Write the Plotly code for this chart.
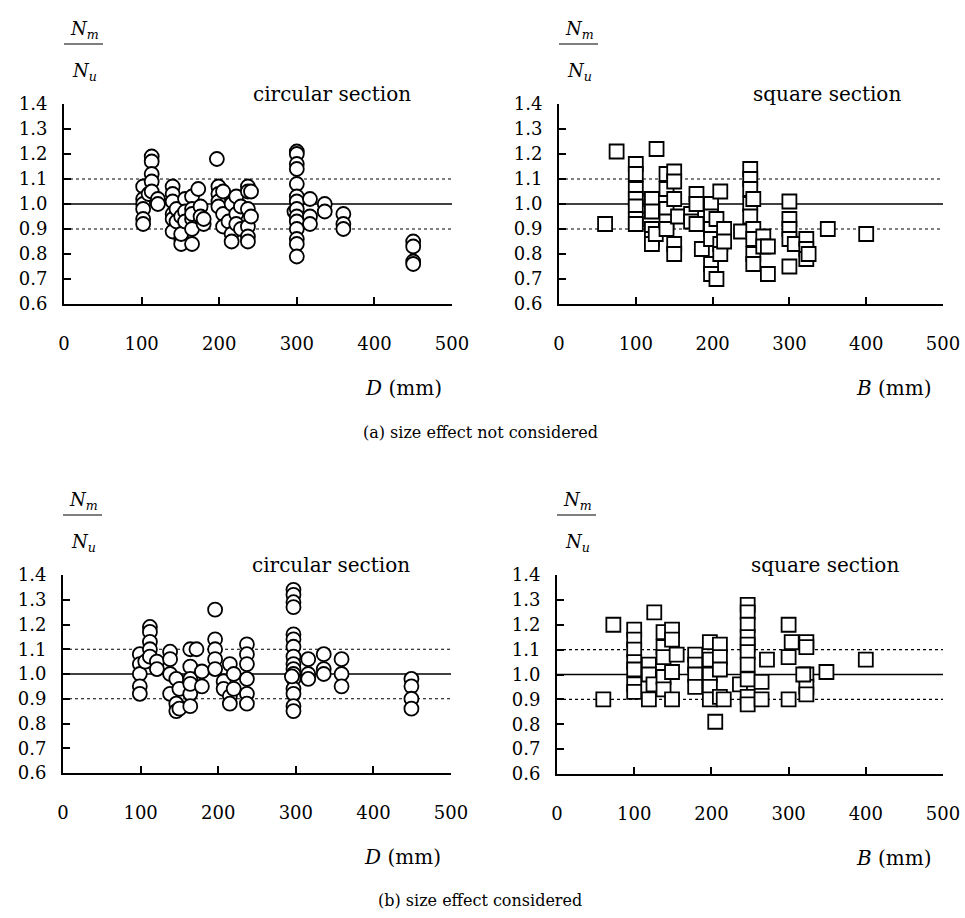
import plotly.graph_objects as go

W, H = 965, 918
FONT = "DejaVu Serif"

# ---------------- data ----------------
# (a) size effect not considered — circular section
circ_a_D = ([102]*6 + [109] + [113]*5 + [121]*2 + [140]*6 + [145]*2 + [151]*4 + [156]*3 +
            [165]*6 + [173] + [176]*2 + [180]*2 + [197] + [199]*4 + [205]*3 + [212] +
            [216]*3 + [222]*3 + [228]*2 + [237]*6 + [241]*2 + [297] + [300]*14 +
            [317]*3 + [336]*2 + [360]*3 + [450]*4)
circ_a_ratio = ([1.07, 1.02, 1.00, 0.98, 0.94, 0.92] + [1.04] + [1.19, 1.17, 1.12, 1.09, 1.05] +
                [1.02, 1.00] + [1.07, 1.04, 1.01, 0.96, 0.94, 0.89] + [0.98, 0.93] +
                [0.95, 0.86, 0.84, 0.88] + [1.02, 0.97, 0.93] + [1.03, 0.98, 0.94, 0.90, 0.84, 0.96] +
                [1.06] + [0.99, 0.95] + [0.92, 0.94] + [1.18] + [1.07, 1.04, 1.01, 0.99] +
                [0.96, 0.91, 1.05] + [0.93] + [1.00, 0.88, 0.85] + [1.03, 0.96, 0.92] + [0.99, 0.90] +
                [1.07, 1.05, 0.98, 0.91, 0.87, 0.85] + [1.05, 0.95] + [0.97] +
                [1.21, 1.20, 1.16, 1.14, 1.08, 1.03, 1.01, 0.98, 0.95, 0.93, 0.90, 0.86, 0.84, 0.79] +
                [1.02, 0.95, 0.92] + [1.00, 0.97] + [0.96, 0.92, 0.90] + [0.85, 0.83, 0.77, 0.76])

# (a) size effect not considered — square section
sq_a_B = ([60, 75, 127] + [100]*7 + [121]*5 + [126] + [140]*5 + [150]*5 + [155] + [172]*2 +
          [179]*3 + [186] + [198]*6 + [205]*2 + [210]*3 + [215]*2 + [237] + [249]*5 + [253]*5 +
          [266]*2 + [272]*2 + [300]*5 + [307] + [322]*3 + [325] + [350] + [400])
sq_a_ratio = ([0.92, 1.21, 1.22] + [1.16, 1.12, 1.06, 1.02, 0.99, 0.94, 0.92] +
              [1.02, 0.97, 0.90, 0.86, 0.84] + [0.88] + [1.12, 1.06, 0.98, 0.93, 0.90] +
              [1.13, 1.09, 1.02, 0.84, 0.80] + [0.95] + [0.96, 0.93] + [1.04, 1.00, 0.92] + [0.82] +
              [1.00, 0.95, 0.90, 0.86, 0.76, 0.72] + [0.70, 0.94] + [1.05, 0.84, 0.80] + [0.90, 0.85] +
              [0.89] + [1.14, 1.10, 1.06, 1.00, 0.95] + [1.02, 0.90, 0.86, 0.80, 0.76] + [0.87, 0.83] +
              [0.83, 0.72] + [1.01, 0.94, 0.90, 0.86, 0.75] + [0.84] + [0.86, 0.82, 0.78] + [0.80] +
              [0.90] + [0.88])

# (b) size effect considered — circular section
circ_b_D = ([99]*5 + [106] + [112]*5 + [121]*2 + [138]*4 + [146]*3 + [150]*2 + [164]*6 + [172] +
            [179]*2 + [196]*5 + [207]*2 + [215]*3 + [220]*2 + [237]*6 + [297]*16 + [295] +
            [316]*3 + [336]*3 + [359]*3 + [449]*4)
circ_b_ratio = ([1.08, 1.04, 1.00, 0.95, 0.92] + [1.05] + [1.19, 1.17, 1.13, 1.10, 1.07] + [1.05, 1.02] +
                [1.09, 1.06, 1.00, 0.92] + [0.98, 0.88, 0.85] + [0.94, 0.86] +
                [1.10, 1.03, 0.98, 0.92, 0.87, 0.96] + [1.10] + [0.95, 1.01] +
                [1.26, 1.14, 1.10, 1.06, 1.02] + [0.97, 0.94] + [1.04, 0.91, 0.88] + [1.00, 0.94] +
                [1.12, 1.08, 1.04, 0.98, 0.92, 0.88] +
                [1.34, 1.32, 1.29, 1.27, 1.16, 1.14, 1.11, 1.07, 1.04, 1.02, 1.00, 0.98, 0.94, 0.92, 0.87, 0.85] +
                [0.99] + [1.06, 1.00, 0.98] + [1.08, 1.02, 1.00] + [1.06, 1.00, 0.95] + [0.98, 0.95, 0.90, 0.86])

# (b) size effect considered — square section
sq_b_B = ([60, 73, 126] + [100]*7 + [119]*3 + [125] + [138]*5 + [149]*4 + [155] + [179]*4 +
          [198]*5 + [205] + [211]*4 + [216] + [237] + [247]*10 + [265]*2 + [272] + [300]*3 +
          [304] + [323]*5 + [319] + [349] + [400])
sq_b_ratio = ([0.90, 1.20, 1.25] + [1.18, 1.14, 1.10, 1.05, 1.02, 0.96, 0.93] + [1.04, 1.00, 0.90] +
              [0.96] + [1.17, 1.11, 1.07, 0.99, 0.94] + [1.18, 1.14, 1.01, 0.90] + [1.08] +
              [1.08, 1.04, 1.00, 0.95] + [1.13, 1.06, 1.00, 0.95, 0.90] + [0.81] +
              [1.12, 1.07, 1.02, 0.91] + [0.90] + [0.96] +
              [1.28, 1.25, 1.20, 1.15, 1.12, 1.09, 1.04, 0.98, 0.91, 0.88] + [0.97, 0.90] + [1.06] +
              [1.20, 1.07, 0.90] + [1.13] + [1.13, 1.11, 1.00, 0.95, 0.92] + [1.00] + [1.01] + [1.06])

x_ticks = [0, 100, 200, 300, 400, 500]
y_ticks = [0.6, 0.7, 0.8, 0.9, 1.0, 1.1, 1.2, 1.3, 1.4]
ref_lines = [(1.0, "solid"), (1.1, "dot"), (0.9, "dot")]
section_titles = ["circular section", "square section", "circular section", "square section"]
x_titles = ["<i>D</i> (mm)", "<i>B</i> (mm)", "<i>D</i> (mm)", "<i>B</i> (mm)"]
captions = ["(a) size effect not considered", "(b) size effect considered"]

# ---------------- layout helpers ----------------
def px_x(p):
    return p / W

def px_y(p):
    return 1 - p / H

def label(text, x, y, size):
    return dict(text=text, xref="paper", yref="paper", x=px_x(x), y=px_y(y),
                xanchor="center", yanchor="middle", showarrow=False,
                font=dict(family=FONT, size=size, color="black"))

# pixel boxes of the 4 plot areas: (left, right, top, bottom)
boxes = [(64, 452, 104, 304), (559, 943, 104, 304), (63, 451, 575, 773), (557, 943, 575, 774)]
series = [(circ_a_D, circ_a_ratio, "circle"), (sq_a_B, sq_a_ratio, "square"),
          (circ_b_D, circ_b_ratio, "circle"), (sq_b_B, sq_b_ratio, "square")]

fig = go.Figure()
layout = dict(template="none", width=W, height=H, margin=dict(l=0, r=0, t=0, b=0, autoexpand=False),
              plot_bgcolor="white", paper_bgcolor="white", showlegend=False,
              font=dict(family=FONT, size=19, color="black"))
shapes, annotations = [], []

for i, ((l, r, t, b), (xs, ys, sym)) in enumerate(zip(boxes, series)):
    k = "" if i == 0 else str(i + 1)
    layout["xaxis" + k] = dict(domain=[px_x(l), px_x(r)], range=[0, 500], anchor="y" + k,
                               tickvals=x_ticks, ticks="inside", ticklen=7, tickwidth=1.5,
                               tickcolor="black", automargin=False,
                               showline=True, linewidth=2, linecolor="black", showgrid=False,
                               zeroline=False, ticklabelstandoff=22,
                               tickfont=dict(family=FONT, size=18, color="black"))
    layout["yaxis" + k] = dict(domain=[px_y(b), px_y(t)], range=[0.6, 1.4], anchor="x" + k,
                               tickvals=y_ticks, tickformat=".1f", ticks="inside", ticklen=7,
                               tickwidth=1.5, tickcolor="black", automargin=False,
                               showline=True, linewidth=2, linecolor="black",
                               showgrid=False, zeroline=False, ticklabelstandoff=11,
                               tickfont=dict(family=FONT, size=18, color="black"))
    fig.add_trace(go.Scatter(x=xs, y=ys, mode="markers", xaxis="x" + k, yaxis="y" + k,
                             marker=dict(symbol=sym, size=14, color="white",
                                         line=dict(color="black", width=1.8))))
    for yv, dash in ref_lines:
        shapes.append(dict(type="line", xref="x" + k + " domain", yref="y" + k, x0=0, x1=1,
                           y0=yv, y1=yv, layer="below",
                           line=dict(color="black", width=1.5 if dash == "solid" else 1.2, dash=dash)))
    # y-axis title as a fraction N_m / N_u
    shapes.append(dict(type="line", xref="paper", yref="paper", x0=px_x(l), x1=px_x(l + 39),
                       y0=px_y(t - 60), y1=px_y(t - 60), line=dict(color="black", width=1.2)))
    annotations.append(label("<i>N</i><sub><i>m</i></sub>", l + 20, t - 74, 18))
    annotations.append(label("<i>N</i><sub><i>u</i></sub>", l + 20, t - 32, 18))
    annotations.append(label(section_titles[i], l + 268, t - 10, 20))
    annotations.append(label(x_titles[i], r - 49, b + 84, 20))

annotations.append(label(captions[0], 480, 432, 16))
annotations.append(label(captions[1], 480, 900, 16))

layout["shapes"] = shapes
layout["annotations"] = annotations
fig.update_layout(**layout)
fig.write_html("out.html")
